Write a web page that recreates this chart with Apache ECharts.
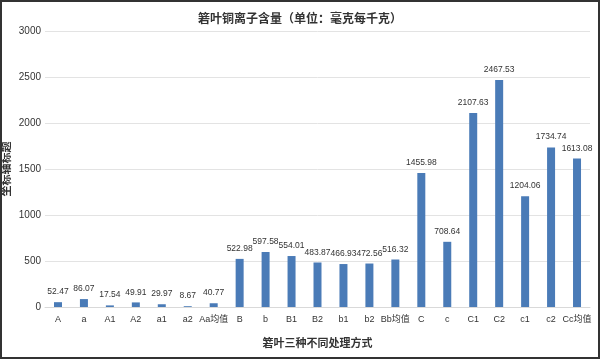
<!DOCTYPE html>
<html><head><meta charset="utf-8">
<script src="https://cdn.jsdelivr.net/npm/echarts@6/dist/echarts.min.js"></script>
<style>html,body{margin:0;padding:0;background:#fff}#c{width:600px;height:359px;box-sizing:border-box;border:2px solid #333}</style>
</head><body><div id="c"></div>
<script>
const categories = ['A','a','A1','A2','a1','a2','Aa均值','B','b','B1','B2','b1','b2','Bb均值','C','c','C1','C2','c1','c2','Cc均值'];
const values = [52.47,86.07,17.54,49.91,29.97,8.67,40.77,522.98,597.58,554.01,483.87,466.93,472.56,516.32,1455.98,708.64,2107.63,2467.53,1204.06,1734.74,1613.08];
const chart = echarts.init(document.getElementById('c'));
const font = '"Liberation Sans", "Noto Sans CJK SC", sans-serif';
const cjk = '"Noto Sans CJK SC", sans-serif';
chart.setOption({
  animation:false,
  title:{text:'箬叶铜离子含量（单位：毫克每千克）',left:'center',top:5,textStyle:{fontSize:12,fontWeight:'bold',color:'#333',fontFamily:cjk}},
  grid:{left:43,right:8,top:29,bottom:50,containLabel:false,outerBoundsMode:'none'},
  xAxis:{type:'category',data:categories,name:'箬叶三种不同处理方式',nameLocation:'middle',nameGap:30,nameMoveOverlap:false,
    nameTextStyle:{fontSize:11,fontWeight:'bold',color:'#333',fontFamily:cjk},
    axisLine:{lineStyle:{color:'#d9d9d9'}},axisTick:{show:false},
    axisLabel:{fontSize:9,color:'#333',fontFamily:font,interval:0,margin:8}},
  yAxis:{type:'value',min:0,max:3000,interval:500,name:'坐标轴标题',nameLocation:'middle',nameGap:34,nameMoveOverlap:false,
    nameTextStyle:{fontSize:11,fontWeight:'bold',color:'#333',fontFamily:cjk},
    axisLabel:{fontSize:10,color:'#333',fontFamily:font,margin:4,formatter:v=>String(v)},
    splitLine:{lineStyle:{color:'#e3e3e3'}}},
  series:[{type:'bar',data:values,barWidth:8,itemStyle:{color:'#4a7bb7'},
    label:{show:true,position:'top',fontSize:8.5,color:'#333',fontFamily:font,distance:6}}]
});
</script></body></html>
